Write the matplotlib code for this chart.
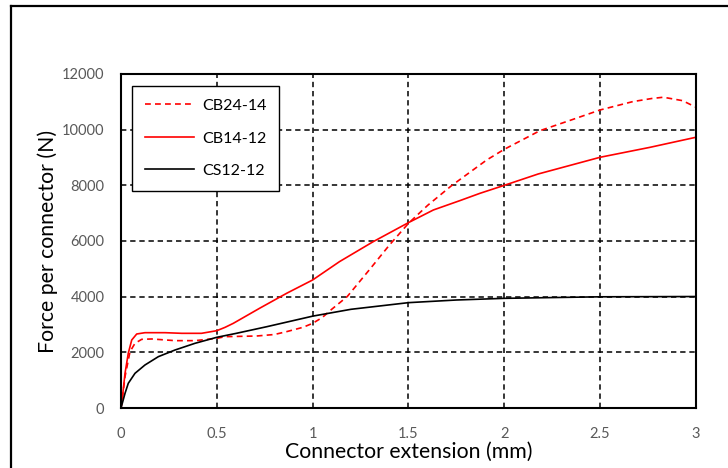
import matplotlib.pyplot as plt
from matplotlib.lines import Line2D

plt.rcParams['font.family'] = ['Lato', 'DejaVu Sans']

# CS12-12 (black)
x_cs = [0, 0.01, 0.021, 0.038, 0.073, 0.125, 0.195, 0.282, 0.386, 0.5, 0.6, 0.76,
        1.0, 1.2, 1.5, 1.75, 2.0, 2.5, 3.0]
f_cs = [0, 250, 527, 887, 1246, 1545, 1845, 2084, 2324, 2540, 2680, 2920,
        3300, 3546, 3785, 3880, 3940, 3995, 4005]

# CB14-12 (red solid)
x_cb14 = [0, 0.01, 0.021, 0.038, 0.056, 0.082, 0.125, 0.23, 0.317, 0.42, 0.5,
          0.543, 0.586, 0.725, 0.864, 1.0, 1.14, 1.316, 1.5, 1.63, 1.768, 1.873,
          2.0, 2.177, 2.5, 2.76, 3.0]
f_cb14 = [0, 550, 1246, 1965, 2443, 2659, 2706, 2706, 2683, 2683, 2778,
          2898, 3042, 3590, 4120, 4600, 5258, 5976, 6660, 7115, 7450, 7713,
          8000, 8408, 9008, 9365, 9727]

# CB24-14 (red dashed)
x_cb24 = [0, 0.01, 0.021, 0.047, 0.073, 0.108, 0.16, 0.282, 0.386, 0.5, 0.543,
          0.708, 0.8, 0.864, 0.95, 1.0, 1.05, 1.1, 1.18, 1.3, 1.4, 1.5,
          1.6, 1.725, 1.908, 2.0, 2.186, 2.35, 2.5, 2.67, 2.77, 2.83, 2.93, 3.0]
f_cb24 = [0, 500, 1126, 2024, 2324, 2467, 2480, 2420, 2420, 2503, 2563,
          2587, 2640, 2743, 2900, 3042, 3250, 3550, 4000, 5000, 5850, 6636,
          7280, 7990, 8910, 9295, 9964, 10350, 10708, 11007, 11120, 11165, 11042, 10805]

fig = plt.figure(figsize=(7.28, 4.68), dpi=100)
ax = fig.add_axes([0.1662, 0.1282, 0.7898, 0.7137])

ax.plot(x_cb24, f_cb24, color='red', lw=1.2, linestyle=(0, (3.5, 2.5)), label='CB24-14')
ax.plot(x_cb14, f_cb14, color='red', lw=1.2, label='CB14-12')
ax.plot(x_cs, f_cs, color='black', lw=1.2, label='CS12-12')

ax.set_xlim(0, 3)
ax.set_ylim(0, 12000)
ax.set_xticks([0, 0.5, 1, 1.5, 2, 2.5, 3])
ax.set_xticklabels(['0', '0.5', '1', '1.5', '2', '2.5', '3'])
ax.set_yticks(range(0, 12001, 2000))
ax.grid(True, color='black', linestyle=(0, (3.5, 2.5)), lw=1.1)
ax.tick_params(length=0, labelsize=10.5, labelcolor='#595959')
ax.tick_params(axis='x', pad=14)
ax.tick_params(axis='y', pad=12)
for s in ax.spines.values():
    s.set_linewidth(1.5)

ax.set_xlabel('Connector extension (mm)', fontsize=15.3, labelpad=0)
ax.set_ylabel('Force per connector (N)', fontsize=15.3, labelpad=3)

leg = ax.legend(loc='upper left', bbox_to_anchor=(0.019, 0.964), borderaxespad=0,
                fontsize=11.5, fancybox=False, edgecolor='black', framealpha=1,
                handlelength=3.1, labelspacing=1.15, borderpad=0.8, handletextpad=0.5)
leg.get_frame().set_linewidth(1.0)

# outer chart frame (left and top edges visible)
fig.add_artist(Line2D([0.015, 0.015], [-0.1, 0.987], transform=fig.transFigure, color='black', lw=1.6))
fig.add_artist(Line2D([0.015, 1.1], [0.987, 0.987], transform=fig.transFigure, color='black', lw=1.6))

fig.savefig('out.png', dpi=100)
